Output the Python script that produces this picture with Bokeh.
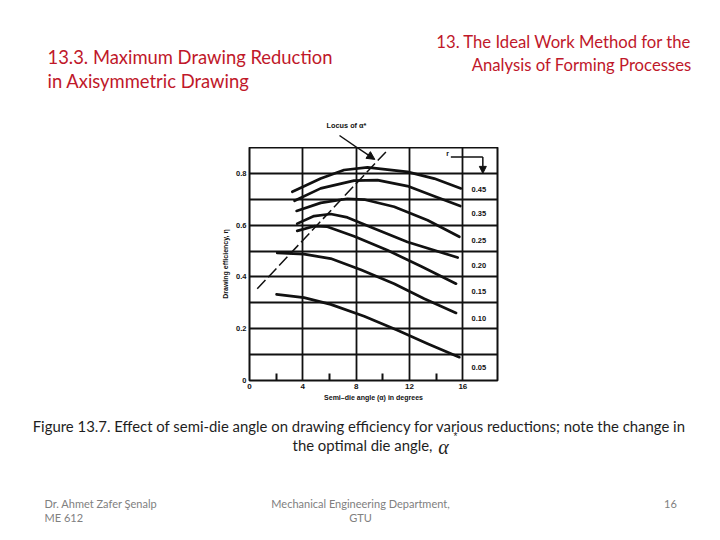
from bokeh.plotting import figure
from bokeh.layouts import column
from bokeh.models import Range1d, FixedTicker, Label, Arrow, NormalHead, ColumnDataSource
from bokeh.embed import file_html
from bokeh.resources import INLINE
from bokeh.core.properties import value

# ---------------- data ----------------
angle_r045 = [3.21, 5.34, 7.09, 8.85, 11.85, 13.86, 15.86]
eff_r045 = [0.729, 0.780, 0.813, 0.823, 0.806, 0.780, 0.742]

angle_r035 = [3.38, 5.34, 7.84, 9.60, 11.85, 13.86, 15.81]
eff_r035 = [0.694, 0.742, 0.772, 0.774, 0.751, 0.712, 0.674]

angle_r025 = [3.53, 5.34, 7.34, 8.60, 10.85, 13.36, 15.74]
eff_r025 = [0.655, 0.686, 0.702, 0.699, 0.671, 0.619, 0.555]

angle_r020 = [3.58, 4.84, 6.09, 7.34, 9.35, 11.85, 15.61]
eff_r020 = [0.606, 0.635, 0.643, 0.630, 0.587, 0.535, 0.475]

angle_r015 = [3.58, 4.84, 5.84, 7.84, 10.35, 12.86, 15.49]
eff_r015 = [0.578, 0.596, 0.594, 0.557, 0.503, 0.441, 0.374]

angle_r010 = [2.08, 4.09, 6.09, 8.35, 10.85, 13.11, 15.49]
eff_r010 = [0.493, 0.488, 0.471, 0.428, 0.374, 0.316, 0.261]

angle_r005 = [2.03, 4.09, 6.09, 8.60, 11.10, 13.36, 15.74]
eff_r005 = [0.333, 0.320, 0.294, 0.248, 0.194, 0.142, 0.090]

locus_angle = [0.58, 10.23]
locus_eff = [0.354, 0.883]

r_labels = ["0.45", "0.35", "0.25", "0.20", "0.15", "0.10", "0.05"]
r_label_eff = [0.737, 0.644, 0.541, 0.445, 0.342, 0.238, 0.052]

x_ticks = [0, 4, 8, 12, 16]
x_minor_ticks = [2, 6, 10, 14]
y_ticks = [0, 0.2, 0.4, 0.6, 0.8]
y_tick_labels = ["0", "0.2", "0.4", "0.6", "0.8"]

INK = "#111111"
RED = "#C0182A"
CAP = "#1e1e1e"
FOOT = "#808080"

W = 720
TOP_H = 147      # slide rows 0..147 (above the chart box)
MID_H = 263      # slide rows 147..410 (chart)
BOT_H = 540 - TOP_H - MID_H


def text_panel(h, y0, y1):
    f = figure(width=W, height=h, output_backend="svg", toolbar_location=None,
               x_range=Range1d(0, W), y_range=Range1d(y1, y0),
               x_axis_type=None, y_axis_type=None, title=None,
               min_border=0, min_border_left=0, min_border_right=0,
               min_border_top=0, min_border_bottom=0)
    f.frame_align = False
    f.grid.visible = False
    f.outline_line_color = None
    f.background_fill_color = "white"
    f.border_fill_color = "white"
    return f


def add_text(f, X, Y, text, size, color, align="left", font="Lato", style="normal"):
    f.add_layout(Label(x=X, y=Y, text=text, text_align=align, text_baseline="middle",
                       text_font=font, text_font_style=style, text_font_size=size,
                       text_color=color))


# ---------------- top: slide titles ----------------
top = text_panel(TOP_H, 0, TOP_H)
add_text(top, 47, 56, "13.3. Maximum Drawing Reduction", "18.4px", RED)
add_text(top, 47, 80, "in Axisymmetric Drawing", "18.4px", RED)
add_text(top, 691, 41, "13. The Ideal Work Method for the", "16.7px", RED, align="right")
add_text(top, 691, 64, "Analysis of Forming Processes", "16.7px", RED, align="right")
add_text(top, 346, 125, "Locus of α*", "7.3px", INK, align="center", font="Liberation Sans", style="bold")
top.add_layout(Arrow(end=None, x_start=339, y_start=135, x_end=356.5, y_end=147,
                     line_width=1.5, line_color=INK))

# ---------------- middle: the chart ----------------
p = figure(width=W, height=MID_H, output_backend="svg", toolbar_location=None,
           x_range=Range1d(0, 18.6), y_range=Range1d(0, 0.9),
           min_border_left=249, min_border_right=223,
           min_border_top=0, min_border_bottom=30,
           title=None)
p.frame_align = False
p.background_fill_color = "white"
p.border_fill_color = "white"
p.outline_line_color = INK
p.outline_line_width = 2

p.xgrid.ticker = FixedTicker(ticks=[4, 8, 12, 16])
p.ygrid.ticker = FixedTicker(ticks=[0.1, 0.2, 0.3, 0.4, 0.5, 0.6, 0.7, 0.8])
for g in (p.xgrid, p.ygrid):
    g.grid_line_color = INK
    g.grid_line_width = 1.8
    g.grid_line_alpha = 1.0

ax = p.xaxis[0]
ax.ticker = FixedTicker(ticks=x_ticks, minor_ticks=x_minor_ticks)
ax.axis_line_color = None
ax.major_tick_in = 0
ax.major_tick_out = 0
ax.minor_tick_in = 7
ax.minor_tick_out = 0
ax.minor_tick_line_color = INK
ax.minor_tick_line_width = 2
ax.major_label_standoff = 3
ax.major_label_text_font = "Liberation Sans"
ax.major_label_text_font_style = "bold"
ax.major_label_text_font_size = "8px"
ax.major_label_text_color = INK
ax.axis_label = "Semi–die angle (α) in degrees"
ax.axis_label_standoff = 2
ax.axis_label_text_font = "Liberation Sans"
ax.axis_label_text_font_style = "bold"
ax.axis_label_text_font_size = "7px"
ax.axis_label_text_color = INK

ay = p.yaxis[0]
ay.ticker = FixedTicker(ticks=y_ticks)
ay.major_label_overrides = {t: s for t, s in zip(y_ticks, y_tick_labels)}
ay.axis_line_color = None
ay.major_tick_in = 0
ay.major_tick_out = 0
ay.minor_tick_line_color = None
ay.major_label_standoff = 3
ay.major_label_text_font = "Liberation Sans"
ay.major_label_text_font_style = "bold"
ay.major_label_text_font_size = "7.5px"
ay.major_label_text_color = INK
ay.axis_label = "Drawing efficiency, η"
ay.axis_label_standoff = 4
ay.axis_label_text_font = "Liberation Sans"
ay.axis_label_text_font_style = "bold"
ay.axis_label_text_font_size = "7px"
ay.axis_label_text_color = INK

curves = [(angle_r045, eff_r045), (angle_r035, eff_r035), (angle_r025, eff_r025),
          (angle_r020, eff_r020), (angle_r015, eff_r015), (angle_r010, eff_r010),
          (angle_r005, eff_r005)]
for xs, ys in curves:
    p.line(xs, ys, line_color=INK, line_width=2.7, line_cap="round", line_join="round")

p.line(locus_angle, locus_eff, line_color=INK, line_width=1.5, line_dash="12 4")

src = ColumnDataSource(dict(x=[17.2] * len(r_labels), y=r_label_eff, t=r_labels))
p.text(x="x", y="y", text="t", source=src, text_align="center", text_baseline="middle",
       text_font=value("Liberation Sans"), text_font_style="bold", text_font_size="7.5px",
       text_color=INK)

p.add_layout(Arrow(end=NormalHead(size=8, fill_color=INK, line_color=INK),
                   x_start=8.06, y_start=0.9, x_end=9.4, y_end=0.854,
                   line_width=1.5, line_color=INK))
p.add_layout(Label(x=14.85, y=0.876, text="r", text_align="center", text_baseline="middle",
                   text_font="Liberation Sans", text_font_style="bold", text_font_size="7px",
                   text_color=INK))
p.add_layout(Arrow(end=None, x_start=15.1, y_start=0.863, x_end=17.5, y_end=0.863,
                   line_width=1.5, line_color=INK))
p.add_layout(Arrow(end=NormalHead(size=7, fill_color=INK, line_color=INK),
                   x_start=17.5, y_start=0.863, x_end=17.5, y_end=0.80,
                   line_width=1.5, line_color=INK))

# ---------------- bottom: caption and footer ----------------
bot = text_panel(BOT_H, TOP_H + MID_H, 540)
add_text(bot, 359, 425, "Figure 13.7. Effect of semi-die angle on drawing efficiency for various reductions; note the change in",
         "14.9px", CAP, align="center")
add_text(bot, 432, 444, "the optimal die angle,", "14.9px", CAP, align="right")
add_text(bot, 443, 446, "α", "20px", CAP, align="center", font="Liberation Serif", style="italic")
add_text(bot, 455, 436, "*", "10px", CAP, align="center", font="Liberation Sans")
add_text(bot, 44, 503, "Dr. Ahmet Zafer Şenalp", "11px", FOOT)
add_text(bot, 44, 517, "ME 612", "11px", FOOT)
add_text(bot, 360, 503, "Mechanical Engineering Department,", "11px", FOOT, align="center")
add_text(bot, 360, 517, "GTU", "11px", FOOT, align="center")
add_text(bot, 670, 503, "16", "11px", FOOT, align="center")

layout = column(top, p, bot, spacing=0)
open("out.html", "w").write(file_html(layout, INLINE))
